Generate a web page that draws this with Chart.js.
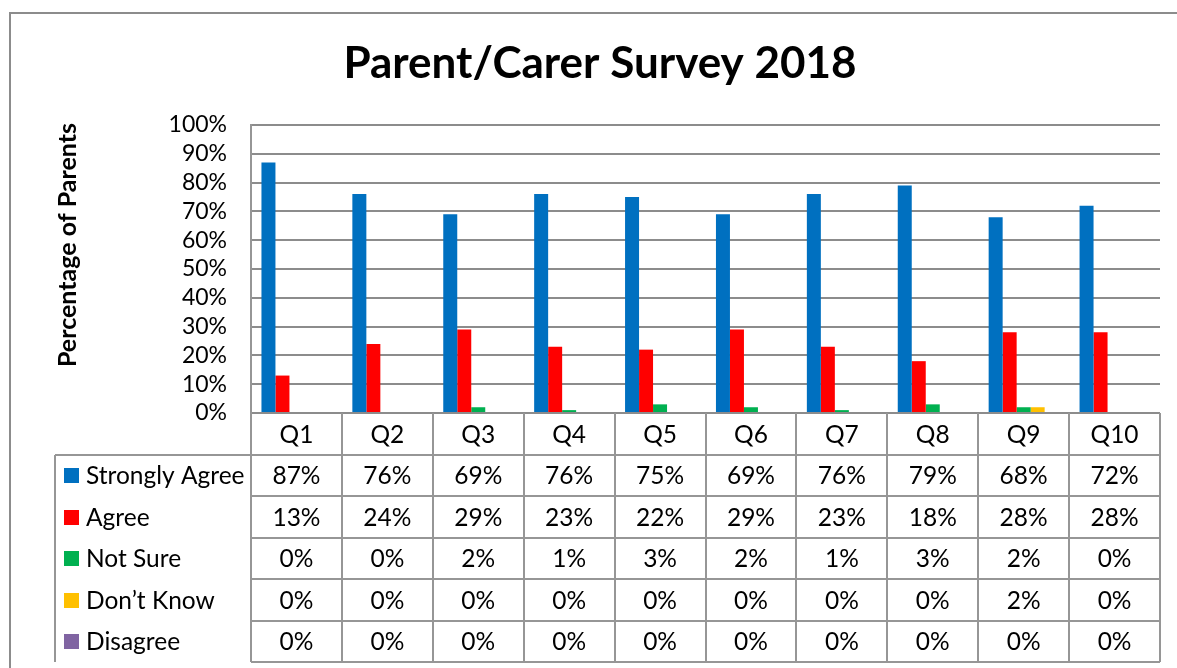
<!DOCTYPE html>
<html>
<head>
<meta charset="utf-8">
<title>Parent/Carer Survey 2018</title>
<script src="https://cdn.jsdelivr.net/npm/chart.js@4.4.0/dist/chart.umd.min.js"></script>
<style>
  body { margin: 0; background: #fff; overflow: hidden; }
  #wrap { position: relative; width: 1177px; height: 668px; }
  #frame { position: absolute; left: 9px; top: 12px; width: 1300px; height: 800px;
           border-top: 2px solid #8c8c8c; border-left: 2px solid #8c8c8c; }
  #c { position: absolute; left: 0; top: 0; }
</style>
</head>
<body>
<div id="wrap">
  <div id="frame"></div>
  <canvas id="c" width="1177" height="668"></canvas>
</div>
<script>
var categories = ['Q1', 'Q2', 'Q3', 'Q4', 'Q5', 'Q6', 'Q7', 'Q8', 'Q9', 'Q10'];
var seriesNames = ['Strongly Agree', 'Agree', 'Not Sure', 'Don\u2019t Know', 'Disagree'];
var stronglyAgree = [87, 76, 69, 76, 75, 69, 76, 79, 68, 72];
var agree = [13, 24, 29, 23, 22, 29, 23, 18, 28, 28];
var notSure = [0, 0, 2, 1, 3, 2, 1, 3, 2, 0];
var dontKnow = [0, 0, 0, 0, 0, 0, 0, 0, 2, 0];
var disagree = [0, 0, 0, 0, 0, 0, 0, 0, 0, 0];
var colours = ['#0070C0', '#FF0000', '#00B050', '#FFC000', '#8064A2'];

var FONT = 'Lato, "Open Sans", sans-serif';
var LINE = '#969696';

// title, axis title and the data table under the plot
var tablePlugin = {
	id: 'dataTable',
	afterDraw: function(chart) {
		var ctx = chart.ctx;
		var area = chart.chartArea;
		var xs = chart.scales.x;
		var n = categories.length;
		var colW = (area.right - area.left) / n;
		var rowH = 41.5;
		var top = area.bottom;
		var tableLeft = 55;
		var rows = chart.data.datasets.length;

		ctx.save();
		// main title
		ctx.fillStyle = '#000';
		ctx.font = 'bold 44px ' + FONT;
		ctx.textAlign = 'center';
		ctx.textBaseline = 'middle';
		ctx.fillText('Parent/Carer Survey 2018', 600, 64);

		// y axis title
		ctx.save();
		ctx.translate(68, 245);
		ctx.rotate(-Math.PI / 2);
		ctx.font = 'bold 25px ' + FONT;
		ctx.fillText('Percentage of Parents', 0, 0);
		ctx.restore();

		// table lines
		ctx.strokeStyle = LINE;
		ctx.lineWidth = 2;
		ctx.beginPath();
		for (var r = 1; r <= rows + 1; r++) {
			var y = Math.round(top + r * rowH);
			ctx.moveTo(r == 1 ? tableLeft : area.left, y);
			ctx.lineTo(area.right, y);
		}
		ctx.moveTo(tableLeft, Math.round(top + rowH));
		ctx.lineTo(tableLeft, Math.round(top + (rows + 1) * rowH));
		for (var i = 0; i <= n; i++) {
			var x = Math.round(area.left + i * colW);
			ctx.moveTo(x, top);
			ctx.lineTo(x, Math.round(top + (rows + 1) * rowH));
		}
		ctx.stroke();

		// header row
		ctx.font = '24.5px ' + FONT;
		ctx.fillStyle = '#000';
		ctx.textAlign = 'center';
		for (var i = 0; i < n; i++) {
			ctx.fillText(categories[i], xs.getPixelForValue(i), top + rowH / 2 + 1);
		}

		// data rows with legend keys
		chart.data.datasets.forEach(function(ds, d) {
			var cy = top + (d + 1.5) * rowH + 1;
			ctx.fillStyle = ds.backgroundColor;
			ctx.fillRect(64, Math.round(cy - 8), 15, 15);
			ctx.fillStyle = '#000';
			ctx.textAlign = 'left';
			ctx.fillText(ds.label, 86, cy);
			ctx.textAlign = 'center';
			for (var i = 0; i < n; i++) {
				ctx.fillText(ds.data[i] + '%', xs.getPixelForValue(i), cy);
			}
		});
		ctx.restore();
	}
};

var seriesData = [stronglyAgree, agree, notSure, dontKnow, disagree];

var chart = new Chart(document.getElementById('c'), {
	type: 'bar',
	data: {
		labels: categories,
		datasets: seriesNames.map(function(name, i) {
			return {
				label: name,
				data: seriesData[i],
				backgroundColor: colours[i],
				borderWidth: 0,
				barPercentage: 1,
				categoryPercentage: 0.77
			};
		})
	},
	options: {
		responsive: false,
		animation: false,
		layout: { padding: { left: 10, right: 17, top: 125, bottom: 255 } },
		plugins: {
			legend: { display: false },
			tooltip: { enabled: false }
		},
		scales: {
			x: { display: false },
			y: {
				min: 0,
				max: 100,
				afterFit: function(s) { s.width = 241; },
				ticks: {
					stepSize: 10,
					autoSkip: false,
					padding: 24,
					color: '#000',
					font: { family: FONT, size: 23 },
					callback: function(v) { return v + '%'; }
				},
				grid: { color: '#8c8c8c', lineWidth: 2, drawTicks: false },
				border: { display: true, color: LINE, width: 2 }
			}
		}
	},
	plugins: [tablePlugin]
});
</script>
</body>
</html>
